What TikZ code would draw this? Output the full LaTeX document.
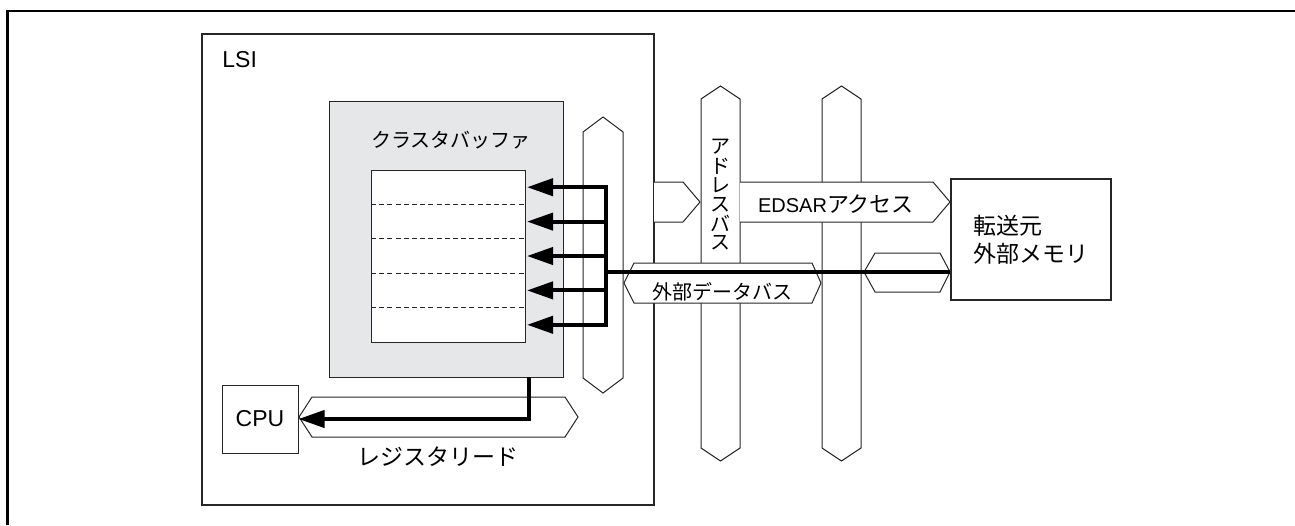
\documentclass[tikz,border=0pt]{standalone}
\usepackage{fontspec}
\setmainfont{Liberation Sans}
\newfontfamily\jp{Noto Sans CJK JP}
\usetikzlibrary{arrows.meta}
\definecolor{bufgray}{RGB}{230,231,232}
\begin{document}
\begin{tikzpicture}[x=0.5pt, y=-0.5pt, >={Triangle[length=13pt,width=8.5pt]}, line join=miter,
	every node/.style={font=\fontsize{11.5}{14}\selectfont, inner sep=0pt},
	small/.style={font=\fontsize{10}{12}\selectfont},
	bus/.style={draw=black!85, fill=white, line width=0.5pt},
	box/.style={draw=black!85, line width=1pt},
	thin box/.style={draw=black!85, line width=0.5pt},
	fat/.style={line width=2pt}]
	
	\useasboundingbox (0,0) rectangle (1295,525);
	\draw[line width=1.1pt] (1295,11) -- (7.5,11) -- (7.5,525);
	
	% LSI
	\node[box, minimum width=226pt, minimum height=235.5pt] (lsi) at (428,269.5) {};
	\node[anchor=west] (lsitext) at (222,60) {LSI};
	
	% cluster buffer
	\node[thin box, fill=bufgray, minimum width=117pt, minimum height=138pt] (cbuf) at (446,239) {};
	\node[small] (cbuftext) at (451,140) {\jp クラスタバッファ};
	\node[thin box, fill=white, minimum width=77pt, minimum height=86pt] (buf) at (448,256) {};
	\foreach \i in {1,...,4}
		\draw[black!85, line width=0.6pt, dash pattern=on 2.5pt off 1.6pt] (371,170+34.4*\i) -- (525,170+34.4*\i);
	\foreach \i in {1,...,5} {
		\coordinate (row\i) at (527,170+34.4*\i-17.2);
		\coordinate (jn\i) at (606,170+34.4*\i-17.2);
	}
	
	% internal bus
	\draw[bus] (603,117) -- (623,132) -- (623,378) -- (603,393) -- (583,378) -- (583,132) -- cycle;
	
	% register read
	\node[thin box, minimum width=38pt, minimum height=34pt] (cpu) at (260,419) {CPU};
	\draw[bus] (299,417) -- (312,397) -- (565,397) -- (578,417) -- (565,437) -- (312,437) -- cycle;
	\node (regtext) at (438,457) {\jp レジスタリード};
	\coordinate (tap) at (529,377);
	\draw[fat,->] (tap) |- (cpu.east);
	
	% address bus and second bus
	\foreach \cx in {720.5,841.5}
		\draw[bus] (\cx,86) -- (\cx+19.5,99) -- (\cx+19.5,448) -- (\cx,461) -- (\cx-19.5,448) -- (\cx-19.5,99) -- cycle;
	\foreach \ch [count=\k] in {ア,ド,レ,ス,バ,ス}
		\node[small] (addr\k) at (720.5,147+19.2*\k-19.2) {\jp \ch};
	
	% EDSAR access
	\draw[bus] (654,182) -- (683,182) -- (700,202) -- (683,222) -- (654,222);
	\draw[bus] (740,182) -- (933,182) -- (950,202) -- (933,222) -- (740,222);
	\node[small] (edsar) at (836,204) {EDSAR{\jp\fontsize{11}{12}\selectfont アクセス}};
	
	% external data bus
	\draw[bus] (624,283) -- (634,263) -- (812,263) -- (821,283) -- (812,303) -- (634,303) -- cycle;
	\node[small] (extdata) at (722,292) {\jp 外部データバス};
	\draw[bus] (864,272) -- (875,253) -- (940,253) -- (950,272) -- (940,292) -- (875,292) -- cycle;
	
	% memory
	\node[box, minimum width=80pt, minimum height=60.5pt, align=left] (mem) at (1031,239.5) {\jp 転送元\\\jp 外部メモリ};
	
	\coordinate (split) at (606,272);
	\draw[fat] (split) -- (split -| mem.west);
	\draw[fat, line cap=rect] (jn1) -- (jn5);
	\foreach \i in {1,...,5}
		\draw[fat,->] (jn\i) -- (row\i);
	
\end{tikzpicture}
\end{document}
